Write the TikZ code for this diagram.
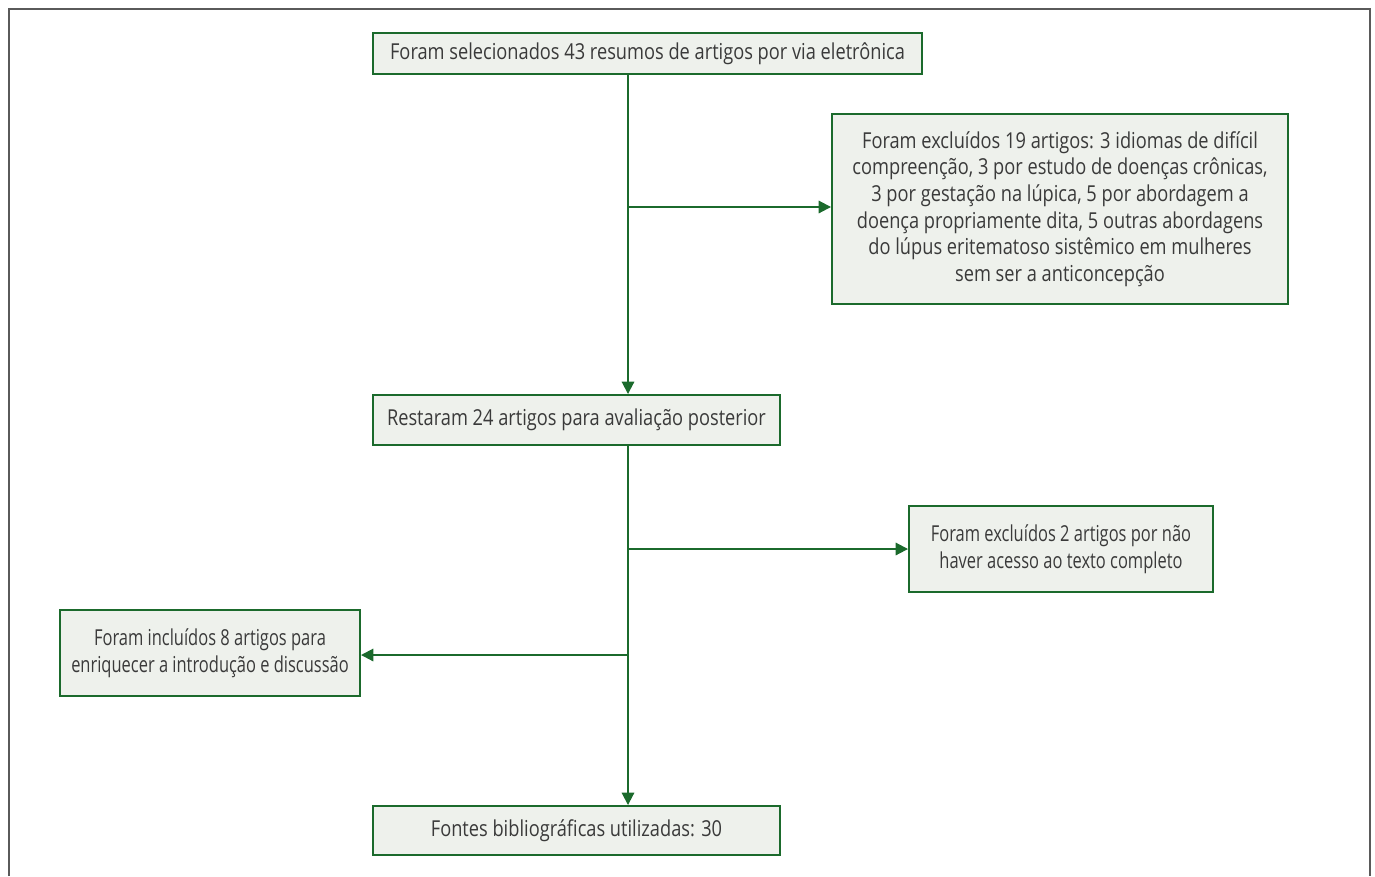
\documentclass[tikz,border=0pt]{standalone}
\usepackage{fontspec}
\setmainfont[FakeStretch=0.83]{Open Sans}
\newfontfamily\narrowfont[FakeStretch=0.75]{Open Sans}
\usepackage{tikz}
\usetikzlibrary{arrows.meta}
\definecolor{boxgreen}{HTML}{1B6A2C}
\definecolor{boxfill}{HTML}{EEF1EC}
\definecolor{frame}{HTML}{5A5A5A}
\definecolor{txt}{HTML}{3A3A3A}

\begin{document}
\begin{tikzpicture}[x=0.02cm,y=-0.02cm,
  box/.style={draw=boxgreen,fill=boxfill,line width=1.1pt,inner sep=0pt,
    align=center,text=txt,font=\fontsize{12.5}{15.2}\selectfont},
  narrow/.style={font=\fontsize{12.5}{15.2}\narrowfont},
  link/.style={draw=boxgreen,line width=1.1pt},
  tip/.style={-{Triangle[length=7pt,width=7pt]}}]
\useasboundingbox (0,0) rectangle (1375,876);
\draw[frame,line width=1.1pt] (9,876) -- (9,9) -- (1370,9) -- (1370,876);

\node [box,minimum width=549*0.02cm,minimum height=41*0.02cm] (sel) at (647.5,53.5)
  {Foram selecionados 43 resumos de artigos por via eletrônica};
\node [box,minimum width=456*0.02cm,minimum height=190*0.02cm] (exc1) at (1060,209)
  {Foram excluídos 19 artigos: 3 idiomas de difícil\\
   compreenção, 3 por estudo de doenças crônicas,\\
   3 por gestação na lúpica, 5 por abordagem a\\
   doença propriamente dita, 5 outras abordagens\\
   do lúpus eritematoso sistêmico em mulheres\\
   sem ser a anticoncepção};
\node [box,minimum width=407*0.02cm,minimum height=50*0.02cm] (rest) at (576.5,420)
  {Restaram 24 artigos para avaliação posterior};
\node [box,narrow,minimum width=304*0.02cm,minimum height=86*0.02cm] (exc2) at (1061,549)
  {Foram excluídos 2 artigos por não\\haver acesso ao texto completo};
\node [box,narrow,minimum width=300*0.02cm,minimum height=86*0.02cm] (inc) at (210,653)
  {Foram incluídos 8 artigos para\\enriquecer a introdução e discussão};
\node [box,minimum width=407*0.02cm,minimum height=49*0.02cm] (fim) at (576.5,830.5)
  {Fontes bibliográficas utilizadas: 30};

% junctions on the spine
\coordinate (j1) at (628,207);
\coordinate (j2) at (628,549);
\coordinate (j3) at (628,655);

\draw [link,tip] (sel.south -| j1) -- (rest.north -| j1);
\draw [link,tip] (j1) -- (j1 -| exc1.west);
\draw [link,tip] (rest.south -| j2) -- (fim.north -| j2);
\draw [link,tip] (j2) -- (j2 -| exc2.west);
\draw [link,tip] (j3) -- (j3 -| inc.east);
\end{tikzpicture}
\end{document}
